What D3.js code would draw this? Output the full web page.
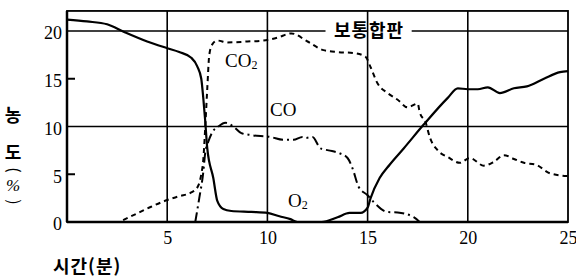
<!DOCTYPE html>
<html lang="ko">
  <head>
    <meta charset="UTF-8" />
    <title>농도 변화</title>
    <style type="text/css">
      body {
        margin: 0;
        background: #ffffff;
      }
      svg {
        display: block;
      }
      .tick text {
        font-family: "Liberation Serif", "DejaVu Serif", serif;
        font-size: 18px;
        fill: #000;
      }
      .kor {
        font-family: "Noto Sans CJK KR", sans-serif;
        font-weight: 700;
        fill: #000;
      }
      .chem {
        font-family: "Liberation Serif", serif;
        font-size: 19px;
        fill: #000;
      }
    </style>
  </head>
  <body>
    <script src="https://d3js.org/d3.v7.min.js"></script>
    <script>
      // [시간(분), 농도(%)]
      var o2Data = [
        [0, 21.2], [1, 21.0], [2, 20.7], [2.85, 19.9], [4.0, 18.9], [5.0, 18.2],
        [5.6, 17.8], [6.2, 17.2], [6.5, 16.3], [6.7, 15.0], [6.8, 13.0], [6.9, 10.5],
        [7.0, 7.7], [7.3, 4.6], [7.5, 2.2], [7.8, 1.35], [8.2, 1.15], [9.2, 1.05],
        [10.0, 0.95], [10.6, 0.6], [11.15, 0.3], [11.5, 0], [12.7, 0], [13.5, 0.5],
        [14.1, 0.95], [14.65, 0.95], [15.0, 1.5], [15.15, 2.5], [15.6, 4.6], [16.1, 6.0],
        [16.8, 7.7], [17.8, 10.2], [19.0, 13.0], [19.5, 14.0], [20.0, 13.9], [20.5, 13.9],
        [21.0, 14.1], [21.6, 13.5], [22.3, 14.0], [22.95, 14.2], [23.8, 15.0], [24.6, 15.7],
        [25, 15.8]
      ];
      var co2Data = [
        [2.8, 0.2], [3.5, 0.9], [4.2, 1.6], [5.0, 2.3], [5.6, 2.7], [6.2, 3.1],
        [6.5, 3.6], [6.7, 5.0], [6.8, 6.5], [6.9, 10], [7.0, 14], [7.1, 17.5],
        [7.25, 18.6], [7.5, 19.0], [8.0, 18.8], [9.0, 18.9], [9.8, 19.0], [10.5, 19.3],
        [11.2, 19.75], [12.0, 18.9], [12.8, 18.0], [13.5, 17.8], [14.3, 17.7], [14.9, 17.3],
        [15.15, 16.2], [15.5, 14.5], [16.0, 13.5], [16.5, 12.8], [17.0, 12.0], [17.5, 12.4],
        [17.6, 11.5], [17.9, 10.4], [18.1, 8.9], [18.5, 7.5], [19.0, 6.8], [19.6, 6.2],
        [20.1, 6.7], [20.8, 5.9], [21.3, 6.3], [21.8, 7.0], [22.3, 6.6], [22.8, 6.2],
        [23.4, 6.0], [24.1, 5.1], [25.0, 4.8]
      ];
      var coData = [
        [6.4, 0], [6.6, 2.5], [6.8, 5.2], [6.9, 7.3], [7.05, 8.4], [7.25, 9.4],
        [7.55, 10.0], [7.9, 10.4], [8.3, 10.0], [8.7, 9.3], [9.2, 9.1], [10.15, 8.9],
        [10.8, 8.6], [11.3, 8.6], [11.75, 8.9], [11.9, 8.8], [12.25, 8.9], [12.65, 7.7],
        [13.05, 7.5], [13.6, 7.2], [14.0, 6.7], [14.25, 5.6], [14.55, 3.7], [15.0, 2.8],
        [15.3, 2.1], [16.0, 1.05], [16.5, 1.0], [17.3, 0.5], [17.6, 0]
      ];

      var xTicks = [5, 10, 15, 20, 25];
      var yTicks = [0, 5, 10, 15, 20];
      var xGrid = [5, 10, 15, 20];
      var yMarks = [5, 15];
      var normalLevel = 20; // 보통합판
      var coLevel = 10;

      var width = 576;
      var height = 277;

      var x = d3.scaleLinear().domain([0, 25]).range([67, 568]);
      var y = d3.scaleLinear().domain([0, 20]).range([222, 31]);
      var yTop = 22.1;

      var svg = d3
        .select("body")
        .append("svg")
        .attr("width", width)
        .attr("height", height);

      // grid
      svg
        .append("g")
        .attr("stroke", "#000")
        .attr("stroke-width", 1.6)
        .selectAll("line")
        .data(xGrid)
        .join("line")
        .attr("x1", (d) => x(d))
        .attr("x2", (d) => x(d))
        .attr("y1", y(yTop))
        .attr("y2", y(0));

      var hg = svg.append("g").attr("stroke", "#000").attr("stroke-width", 1.6);
      hg.append("line")
        .attr("x1", x(0)).attr("x2", x(12.9))
        .attr("y1", y(normalLevel)).attr("y2", y(normalLevel));
      hg.append("line")
        .attr("x1", x(17.2)).attr("x2", x(25))
        .attr("y1", y(normalLevel)).attr("y2", y(normalLevel));
      hg.append("line")
        .attr("x1", x(0)).attr("x2", x(25))
        .attr("y1", y(coLevel)).attr("y2", y(coLevel));

      // small marks on the y axis
      svg
        .append("g")
        .attr("stroke", "#000")
        .attr("stroke-width", 2)
        .selectAll("line")
        .data(yMarks)
        .join("line")
        .attr("x1", x(0))
        .attr("x2", x(0) + 8)
        .attr("y1", (d) => y(d))
        .attr("y2", (d) => y(d));

      // frame
      svg
        .append("rect")
        .attr("x", x(0))
        .attr("y", y(yTop))
        .attr("width", x(25) - x(0))
        .attr("height", y(0) - y(yTop))
        .attr("fill", "none")
        .attr("stroke", "#000")
        .attr("stroke-width", 1.8);
      svg
        .append("line")
        .attr("x1", x(0)).attr("x2", x(25))
        .attr("y1", y(0)).attr("y2", y(0))
        .attr("stroke", "#000")
        .attr("stroke-width", 2.5);
      svg
        .append("line")
        .attr("x1", x(0)).attr("x2", x(0))
        .attr("y1", y(yTop)).attr("y2", y(0))
        .attr("stroke", "#000")
        .attr("stroke-width", 2.5);

      // axes labels
      var xAxis = d3.axisBottom(x).tickValues(xTicks).tickSize(0).tickPadding(9);
      svg
        .append("g")
        .attr("transform", `translate(0,${y(0)})`)
        .call(xAxis)
        .call((g) => g.select(".domain").remove());

      var yAxis = d3.axisLeft(y).tickValues(yTicks).tickSize(0).tickPadding(5);
      svg
        .append("g")
        .attr("transform", `translate(${x(0)},2)`)
        .call(yAxis)
        .call((g) => g.select(".domain").remove());

      // curves
      var line = d3
        .line()
        .x((d) => x(d[0]))
        .y((d) => y(d[1]))
        .curve(d3.curveMonotoneX);

      svg
        .append("path")
        .datum(o2Data)
        .attr("d", line)
        .attr("fill", "none")
        .attr("stroke", "#000")
        .attr("stroke-width", 2.2);

      svg
        .append("path")
        .datum(co2Data)
        .attr("d", line)
        .attr("fill", "none")
        .attr("stroke", "#000")
        .attr("stroke-width", 2)
        .attr("stroke-dasharray", "5,4");

      svg
        .append("path")
        .datum(coData)
        .attr("d", line)
        .attr("fill", "none")
        .attr("stroke", "#000")
        .attr("stroke-width", 2)
        .attr("stroke-dasharray", "10,4,2,4");

      // series labels
      var co2Label = svg.append("text").attr("class", "chem").attr("x", 225).attr("y", 67);
      co2Label.append("tspan").text("CO");
      co2Label.append("tspan").attr("font-size", 12).attr("dy", 2).text("2");

      svg.append("text").attr("class", "chem").attr("x", 270).attr("y", 116).text("CO");

      var o2Label = svg.append("text").attr("class", "chem").attr("x", 288).attr("y", 207);
      o2Label.append("tspan").text("O");
      o2Label.append("tspan").attr("font-size", 12).attr("dy", 2).text("2");

      svg
        .append("text")
        .attr("class", "kor")
        .attr("x", 369)
        .attr("y", y(normalLevel) + 6)
        .attr("text-anchor", "middle")
        .attr("font-size", 18)
        .attr("letter-spacing", 1)
        .text("보통합판");

      // axis titles
      svg
        .append("text")
        .attr("class", "kor")
        .attr("x", 53)
        .attr("y", 273)
        .attr("font-size", 18)
        .attr("letter-spacing", 1)
        .text("시간(분)");

      var yTitle = svg.append("g").attr("class", "kor").attr("font-size", 18);
      yTitle.append("text").attr("x", 13).attr("y", 122).attr("text-anchor", "middle").text("농");
      yTitle.append("text").attr("x", 13).attr("y", 159).attr("text-anchor", "middle").text("도");
      yTitle
        .append("text")
        .attr("transform", "translate(13,170) rotate(90)")
        .attr("text-anchor", "middle")
        .attr("dy", "0.35em")
        .attr("font-weight", 400)
        .attr("font-size", 16)
        .text("(");
      yTitle
        .append("text")
        .attr("x", 13)
        .attr("y", 191)
        .attr("text-anchor", "middle")
        .attr("font-family", "Liberation Serif, serif")
        .attr("font-style", "italic")
        .attr("font-weight", 400)
        .attr("font-size", 17)
        .text("%");
      yTitle
        .append("text")
        .attr("transform", "translate(13,202) rotate(90)")
        .attr("text-anchor", "middle")
        .attr("dy", "0.35em")
        .attr("font-weight", 400)
        .attr("font-size", 16)
        .text(")");
    </script>
  </body>
</html>
